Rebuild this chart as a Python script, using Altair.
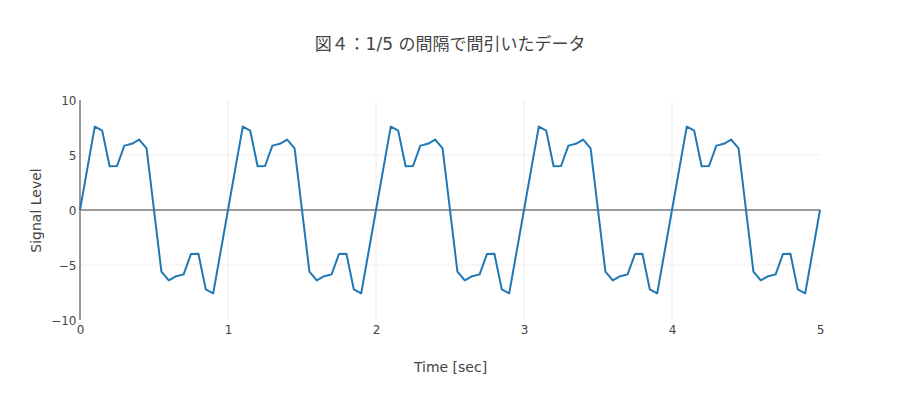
import altair as alt
import pandas as pd

title_text = "図４：1/5 の間隔で間引いたデータ"
x_title = "Time [sec]"
y_title = "Signal Level"

time_sec = [round(i * 0.05, 2) for i in range(101)]
signal = [
    0, 3.8, 7.58, 7.22, 3.98, 4.0, 5.85, 6.02, 6.4, 5.6,
    0, -5.6, -6.4, -6.02, -5.85, -4.0, -3.98, -7.22, -7.58, -3.8,
    0, 3.8, 7.58, 7.22, 3.98, 4.0, 5.85, 6.02, 6.4, 5.6,
    0, -5.6, -6.4, -6.02, -5.85, -4.0, -3.98, -7.22, -7.58, -3.8,
    0, 3.8, 7.58, 7.22, 3.98, 4.0, 5.85, 6.02, 6.4, 5.6,
    0, -5.6, -6.4, -6.02, -5.85, -4.0, -3.98, -7.22, -7.58, -3.8,
    0, 3.8, 7.58, 7.22, 3.98, 4.0, 5.85, 6.02, 6.4, 5.6,
    0, -5.6, -6.4, -6.02, -5.85, -4.0, -3.98, -7.22, -7.58, -3.8,
    0, 3.8, 7.58, 7.22, 3.98, 4.0, 5.85, 6.02, 6.4, 5.6,
    0, -5.6, -6.4, -6.02, -5.85, -4.0, -3.98, -7.22, -7.58, -3.8,
    0,
]
x_ticks = [0, 1, 2, 3, 4, 5]
y_ticks = [-10, -5, 0, 5, 10]
x_grid = [1, 2, 3, 4]
y_grid = [-5, 5]

df = pd.DataFrame({"t": time_sec, "v": signal})
FONT = "DejaVu Sans, Noto Sans CJK JP, sans-serif"

xs = alt.Scale(domain=[0, 5], nice=False, zero=False)
ys = alt.Scale(domain=[-10, 10], nice=False)

base = alt.Chart(df)

grid = base.mark_point(opacity=0).encode(
    x=alt.X("t:Q", scale=xs, title=x_title,
            axis=alt.Axis(values=x_ticks, format="d", grid=False, domain=False, ticks=False,
                          labelFlush=False, labelAlign="center",
                          labelPadding=4, titlePadding=25, labelFontSize=12,
                          titleFontSize=14, titleFontWeight="normal",
                          labelColor="#444", titleColor="#444",
                          labelFont=FONT, titleFont=FONT)),
    y=alt.Y("v:Q", scale=ys, title=y_title,
            axis=alt.Axis(values=y_ticks, format="d", grid=False, domain=False, ticks=False,
                          labelFlush=False,
                          labelPadding=4, titlePadding=7, labelFontSize=12,
                          titleFontSize=14, titleFontWeight="normal",
                          labelColor="#444", titleColor="#444",
                          labelFont=FONT, titleFont=FONT, labelBaseline="middle")),
)

xgrid_df = pd.DataFrame({"g": x_grid})
ygrid_df = pd.DataFrame({"g": y_grid})
vgrid = alt.Chart(xgrid_df).mark_rule(color="#eeeeee", strokeWidth=1).encode(
    x=alt.X("g:Q", scale=xs))
hgrid = alt.Chart(ygrid_df).mark_rule(color="#eeeeee", strokeWidth=1).encode(
    y=alt.Y("g:Q", scale=ys))

zero_df = pd.DataFrame({"z": [0]})
zero_h = alt.Chart(zero_df).mark_rule(color="#999999", strokeWidth=2).encode(
    y=alt.Y("z:Q", scale=ys))
zero_v = alt.Chart(zero_df).mark_rule(color="#999999", strokeWidth=2).encode(
    x=alt.X("z:Q", scale=xs))

line = base.mark_line(color="#1f77b4", strokeWidth=2, strokeJoin="round").encode(
    x=alt.X("t:Q", scale=xs), y=alt.Y("v:Q", scale=ys))

chart = alt.layer(grid, vgrid, hgrid, zero_h, zero_v, line).properties(
    width=740, height=220,
    title=alt.TitleParams(title_text, fontSize=17, font=FONT, color="#444",
                          fontWeight="normal", anchor="middle", offset=40),
    autosize=alt.AutoSizeParams(type="none"),
    padding={"left": 72, "top": 92, "right": 72, "bottom": 72},
).configure_view(stroke=None)

chart.save("out.html", embed_options={"renderer": "svg", "actions": False})
